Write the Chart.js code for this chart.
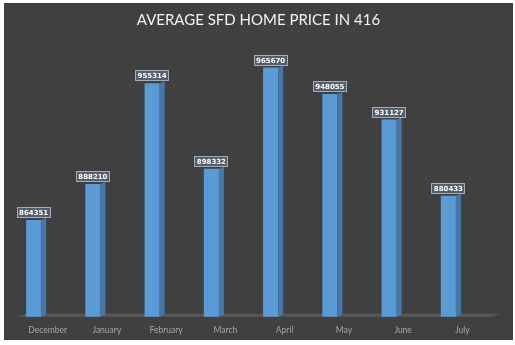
<!DOCTYPE html>
<html>
<head>
<meta charset="utf-8">
<script src="https://cdn.jsdelivr.net/npm/chart.js@4.4.0/dist/chart.umd.min.js"></script>
<style>
  html, body { margin: 0; padding: 0; background: #fff; }
  #box {
    position: absolute; left: 4px; top: 3px;
    width: 509px; height: 337px;
    background: #404040;
  }
  canvas { display: block; }
</style>
</head>
<body>
<div id="box"><canvas id="chart416" width="509" height="337"></canvas></div>
<script>
var chartTitle = 'AVERAGE SFD HOME PRICE IN 416';
var months = ['December', 'January', 'February', 'March', 'April', 'May', 'June', 'July'];
var avgPrice = [864351, 888210, 955314, 898332, 965670, 948055, 931127, 880433];

// fake 3d look: floor strip, side faces and the boxed value labels
var excel3d = {
  id: 'excel3d',
  beforeDatasetsDraw: function (chart) {
    var ctx = chart.ctx, a = chart.chartArea;
    ctx.save();
    ctx.fillStyle = '#575757';
    ctx.beginPath();
    ctx.moveTo(a.left + 14, a.bottom);
    ctx.lineTo(a.right + 15, a.bottom);
    ctx.lineTo(a.right + 22, a.bottom - 3);
    ctx.lineTo(a.left + 21, a.bottom - 3);
    ctx.closePath();
    ctx.fill();
    ctx.restore();
  },
  afterDatasetsDraw: function (chart) {
    var ctx = chart.ctx, a = chart.chartArea;
    var meta = chart.getDatasetMeta(0);
    ctx.save();
    meta.data.forEach(function (bar, i) {
      var r = bar.x + bar.width / 2;
      var b = Math.min(bar.base, a.bottom);
      ctx.fillStyle = '#4577a8';
      ctx.beginPath();
      ctx.moveTo(r, bar.y);
      ctx.lineTo(r + 5, bar.y - 2);
      ctx.lineTo(r + 5, b - 2);
      ctx.lineTo(r, b);
      ctx.closePath();
      ctx.fill();

      var txt = String(avgPrice[i]);
      var bw = 34, bh = 11;
      var bx = Math.round(bar.x - bw / 2), by = Math.round(bar.y - bh - 2);
      ctx.fillStyle = 'rgba(85,95,110,0.95)';
      ctx.fillRect(bx, by, bw, bh);
      ctx.strokeStyle = '#a3adb8';
      ctx.lineWidth = 1;
      ctx.strokeRect(bx + 0.5, by + 0.5, bw - 1, bh - 1);
      ctx.fillStyle = '#ffffff';
      ctx.font = 'bold 7px "DejaVu Sans"';
      ctx.textAlign = 'center';
      ctx.textBaseline = 'middle';
      ctx.fillText(txt, bar.x, by + bh / 2 + 0.5);
    });
    ctx.restore();
  },
  afterDraw: function (chart) {
    var ctx = chart.ctx;
    ctx.save();
    ctx.fillStyle = '#f2f2f2';
    ctx.font = '15px Lato';
    ctx.textAlign = 'center';
    ctx.textBaseline = 'middle';
    ctx.fillText(chartTitle, chart.width / 2, 17);
    ctx.restore();
  }
};

var ctx = document.getElementById('chart416').getContext('2d');
window.chart416 = new Chart(ctx, {
  type: 'bar',
  data: {
    labels: months,
    datasets: [{
      label: 'Average SFD home price',
      data: avgPrice,
      backgroundColor: '#5b9bd5',
      borderWidth: 0,
      barPercentage: 0.255,
      categoryPercentage: 1
    }]
  },
  options: {
    responsive: false,
    animation: false,
    layout: { padding: { left: 0, right: 35, top: 43, bottom: -3 } },
    plugins: {
      legend: { display: false },
      tooltip: { enabled: false },
      title: { display: false }
    },
    scales: {
      x: {
        grid: { display: false, drawTicks: false },
        border: { display: false },
        ticks: { color: '#a6a6a6', font: { family: 'Lato', size: 8.5 }, labelOffset: 14, padding: 8 }
      },
      y: {
        display: false,
        min: 800000,
        max: 980000
      }
    }
  },
  plugins: [excel3d]
});
</script>
</body>
</html>
